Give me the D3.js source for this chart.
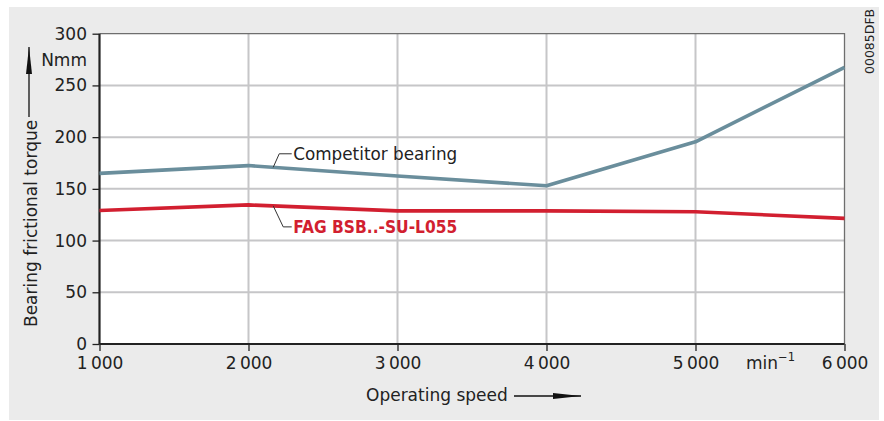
<!DOCTYPE html>
<html>
<head>
<meta charset="utf-8">
<script src="https://cdn.jsdelivr.net/npm/d3@7"></script>
<style>
  body { margin: 0; background: #fff; }
  text { font-family: "DejaVu Sans", "Open Sans", sans-serif; fill: #222; }
</style>
</head>
<body>
<svg id="chart" width="884" height="421"></svg>
<script>
// chart values
const speeds = [1000, 2000, 3000, 4000, 5000, 6000];
const competitor = [165, 172.5, 162.5, 153, 195.5, 267.5];
const fag = [129, 134.5, 128.7, 128.7, 127.8, 121.5];
const yTicks = [0, 50, 100, 150, 200, 250, 300];
const xTicks = [1000, 2000, 3000, 4000, 5000, 6000];
const xTickLabels = ['1\u202F000', '2\u202F000', '3\u202F000', '4\u202F000', '5\u202F000', '6\u202F000'];

const FONT = '"DejaVu Sans", "Open Sans", sans-serif';
const FS = 17;

let svg = d3.select('#chart');

// panel
svg.append('rect')
    .attr('x', 9).attr('y', 7)
    .attr('width', 870).attr('height', 413)
    .attr('fill', '#ebebeb');

let plot = { left: 99.5, right: 844.5, top: 33.7, bottom: 344 };

let x = d3.scaleLinear()
    .domain([1000, 6000])
    .range([plot.left, plot.right]);
let y = d3.scaleLinear()
    .domain([0, 300])
    .range([plot.bottom, plot.top]);

svg.append('rect')
    .attr('x', plot.left).attr('y', plot.top)
    .attr('width', plot.right - plot.left)
    .attr('height', plot.bottom - plot.top)
    .attr('fill', '#fff');

// grid
let grid = svg.append('g').classed('grid', true)
    .attr('stroke', '#c6c6c8')
    .attr('stroke-width', 2);
grid.selectAll('line.h')
    .data(yTicks.filter(d => d > 0 && d < 300))
    .enter().append('line')
        .attr('x1', plot.left).attr('x2', plot.right)
        .attr('y1', d => y(d)).attr('y2', d => y(d));
grid.selectAll('line.v')
    .data(xTicks.filter(d => d > 1000 && d < 6000))
    .enter().append('line')
        .attr('x1', d => x(d)).attr('x2', d => x(d))
        .attr('y1', plot.top).attr('y2', plot.bottom);

// frame: top and right thin grey
svg.append('path')
    .attr('d', `M${plot.left},${plot.top}H${plot.right}V${plot.bottom}`)
    .attr('fill', 'none')
    .attr('stroke', '#6e6e6e')
    .attr('stroke-width', 1.3);

// axes
let yAxis = svg.append('g')
    .attr('transform', `translate(${plot.left},0)`)
    .call(d3.axisLeft(y).tickValues(yTicks).tickSize(7).tickPadding(5.5));
let xAxis = svg.append('g')
    .attr('transform', `translate(0,${plot.bottom})`)
    .call(d3.axisBottom(x).tickValues(xTicks)
        .tickFormat((d, i) => xTickLabels[i]).tickSize(7).tickPadding(5.5));

[yAxis, xAxis].forEach(function(a) {
    a.select('.domain').attr('stroke', '#222').attr('stroke-width', 2.2);
    a.selectAll('.tick line').attr('stroke', '#222').attr('stroke-width', 1.3);
    a.selectAll('.tick text')
        .attr('font-family', FONT)
        .attr('font-size', FS)
        .attr('fill', '#222');
});
xAxis.select('.domain').attr('d', `M${plot.left},0H${plot.right}`);
yAxis.select('.domain').attr('d', `M0,${plot.bottom}V${plot.top}`);

// lines
let line = d3.line()
    .x((d, i) => x(speeds[i]))
    .y(d => y(d));

svg.append('path')
    .datum(competitor)
    .attr('d', line)
    .attr('fill', 'none')
    .attr('stroke', '#6a8e9c')
    .attr('stroke-width', 3.6)
    .attr('stroke-linejoin', 'round');

svg.append('path')
    .datum(fag)
    .attr('d', line)
    .attr('fill', 'none')
    .attr('stroke', '#d21f30')
    .attr('stroke-width', 3.6)
    .attr('stroke-linejoin', 'round');

// value along a series at some speed
let valueAt = function(series, speed) {
    return d3.scaleLinear().domain(speeds).range(series)(speed);
};

// labels with leaders
let labels = [
    { text: 'Competitor bearing', series: competitor, speed: 2166, dy: -13.5, weight: 'normal', color: '#222' },
    { text: 'FAG BSB..-SU-L055', series: fag, speed: 2166, dy: 21, weight: 'bold', color: '#d21f30' },
];
labels.forEach(function(l) {
    let x0 = x(l.speed);
    let y0 = y(valueAt(l.series, l.speed));
    let x1 = x0 + (l.dy < 0 ? 6 : 10);
    let y1 = y0 + l.dy;
    svg.append('path')
        .attr('d', `M${x0},${y0}L${x1},${y1}H${x0 + 18.5}`)
        .attr('fill', 'none')
        .attr('stroke', '#333')
        .attr('stroke-width', 1);
    svg.append('text')
        .attr('x', x0 + 20)
        .attr('y', y1)
        .attr('dy', '0.35em')
        .attr('font-size', FS)
        .attr('font-weight', l.weight)
        .attr('textLength', 164)
        .attr('lengthAdjust', 'spacingAndGlyphs')
        .style('fill', l.color)
        .text(l.text);
});

// unit labels
svg.append('text')
    .attr('x', 87).attr('y', 60)
    .attr('dy', '0.35em')
    .attr('text-anchor', 'end')
    .attr('font-size', FS)
    .text('Nmm');

let minus = svg.append('text')
    .attr('x', 746).attr('y', 368.5)
    .attr('font-size', FS);
minus.append('tspan').text('min');
minus.append('tspan').attr('dy', -7.5).attr('font-size', 11.5).text('\u22121');

// axis titles with arrows
svg.append('text')
    .attr('x', 366).attr('y', 395)
    .attr('dy', '0.35em')
    .attr('font-size', FS)
    .text('Operating speed');
svg.append('line')
    .attr('x1', 514).attr('x2', 581)
    .attr('y1', 396).attr('y2', 396)
    .attr('stroke', '#111').attr('stroke-width', 1.3);
svg.append('path')
    .attr('d', 'M553,393L581,396L553,399Z')
    .attr('fill', '#111');

svg.append('text')
    .attr('transform', 'translate(31,327) rotate(-90)')
    .attr('dy', '0.35em')
    .attr('font-size', FS)
    .text('Bearing frictional torque');
svg.append('line')
    .attr('x1', 29).attr('x2', 29)
    .attr('y1', 117).attr('y2', 47)
    .attr('stroke', '#111').attr('stroke-width', 1.3);
svg.append('path')
    .attr('d', 'M26,74L29,47L32,74Z')
    .attr('fill', '#111');

// figure code
svg.append('text')
    .attr('transform', 'translate(870,74) rotate(-90)')
    .attr('dy', '0.35em')
    .attr('font-size', 12.5)
    .text('00085DFB');
</script>
</body>
</html>
